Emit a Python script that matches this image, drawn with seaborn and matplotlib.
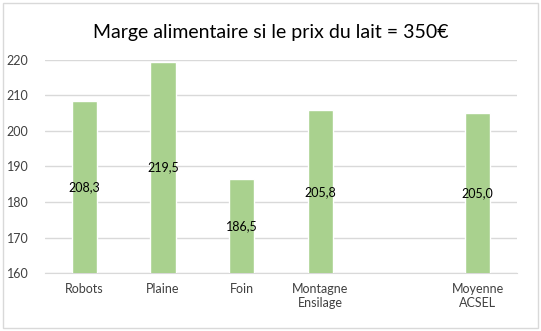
import matplotlib
matplotlib.use("Agg")
import matplotlib.pyplot as plt
import pandas as pd
import seaborn as sns

categories = ["Robots", "Plaine", "Foin", "Montagne\nEnsilage", " ", "Moyenne\nACSEL"]
groups = ["Robots", "Plaine", "Foin", "Montagne\nEnsilage", "Moyenne\nACSEL"]
marge = [208.3, 219.5, 186.5, 205.8, 205.0]

df = pd.DataFrame({"Groupe": groups, "Marge": marge})

sns.set_style("white")
plt.rcParams["font.family"] = ["Lato", "DejaVu Sans"]

fig = plt.figure(figsize=(5.41, 3.31), dpi=100)
ax = fig.add_axes([0.0832, 0.175, 0.8724, 0.644])

sns.barplot(data=df, x="Groupe", y="Marge", order=categories, color="#A9D18E",
            saturation=1, width=0.32, ax=ax, zorder=3)

ymin = 160
ax.set_ylim(ymin, 220)
ax.set_yticks(range(160, 221, 10))
ax.set_xlim(-0.5, len(categories) - 0.5)
ax.grid(axis="y", color="#D9D9D9", linewidth=1, zorder=0)
for s in ["top", "right", "left"]:
    ax.spines[s].set_visible(False)
ax.spines["bottom"].set_color("#D9D9D9")
ax.tick_params(axis="both", length=0, labelsize=9, colors="#404040")
ax.tick_params(axis="y", pad=12)
ax.tick_params(axis="x", pad=7)
ax.set_xlabel("")
ax.set_ylabel("")

for i, cat in enumerate(categories):
    if cat in groups:
        v = marge[groups.index(cat)]
        ax.text(i, (ymin + v) / 2, f"{v:.1f}".replace(".", ","), ha="center",
                va="center", fontsize=9, color="#000000", zorder=4)

fig.text(0.5, 0.903, "Marge alimentaire si le prix du lait = 350€", ha="center",
         va="center", fontsize=14, color="#000000")

border = plt.Rectangle((0.006, 0.009), 0.988, 0.982, transform=fig.transFigure,
                       fill=False, edgecolor="#D9D9D9", linewidth=1)
fig.patches.append(border)

fig.savefig("out.png", dpi=100)
